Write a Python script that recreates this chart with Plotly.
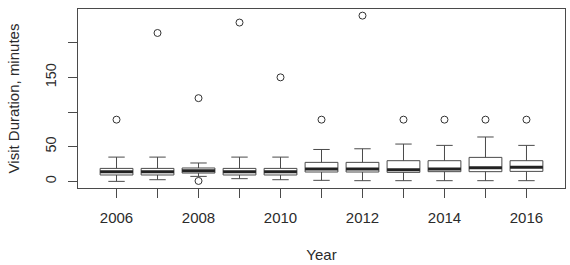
import plotly.graph_objects as go

# ---- data ----
years = [2006, 2007, 2008, 2009, 2010, 2011, 2012, 2013, 2014, 2015, 2016]
q1 = [9.2, 9.2, 12.0, 9.2, 9.2, 13.5, 13.5, 13.0, 14.0, 14.0, 14.4]
medians = [14.0, 14.0, 15.4, 14.0, 14.0, 17.9, 17.9, 16.9, 17.9, 19.7, 20.2]
q3 = [18.7, 18.7, 19.3, 18.7, 18.7, 27.4, 27.4, 29.8, 29.8, 34.6, 29.8]
whisk_lo = [0.0, 2.4, 7.2, 3.9, 2.4, 1.5, 1.0, 1.0, 1.0, 1.0, 1.0]
whisk_hi = [35.0, 35.0, 26.5, 35.0, 35.0, 46.0, 47.0, 53.8, 51.9, 64.0, 51.9]

outlier_years = [2006, 2007, 2008, 2008, 2009, 2010, 2011, 2012, 2013, 2014, 2015, 2016]
outlier_vals = [89, 214, 120, 0.6, 229, 150, 89, 239, 89, 89, 89, 89]

y_ticks = [0, 50, 100, 150, 200]
y_ticktext = ["0", "50", "", "150", ""]
x_ticktext = [str(y) if (y % 2 == 0) else "" for y in years]

x_title = "Year"
y_title = "Visit Duration, minutes"

# ---- styling ----
FONT = "Liberation Sans, Arial, sans-serif"
TXT = "#2b2b2b"
LINE = "#4a4a4a"
BOX_W = 0.8

pos = list(range(1, len(years) + 1))
pos_of = {y: p for y, p in zip(years, pos)}

fig = go.Figure()

fig.add_trace(go.Box(
    x=pos, q1=q1, median=medians, q3=q3,
    lowerfence=whisk_lo, upperfence=whisk_hi,
    width=BOX_W, whiskerwidth=0.5,
    line=dict(color=LINE, width=1),
    fillcolor="white", boxpoints=False, showlegend=False,
    hoverinfo="skip",
))

# thick median bars (R style)
mx, my = [], []
for p, m in zip(pos, medians):
    mx += [p - BOX_W / 2, p + BOX_W / 2, None]
    my += [m, m, None]
fig.add_trace(go.Scatter(x=mx, y=my, mode="lines",
                         line=dict(color="#222222", width=3),
                         showlegend=False, hoverinfo="skip"))

# outliers
fig.add_trace(go.Scatter(
    x=[pos_of[y] for y in outlier_years], y=outlier_vals, mode="markers",
    marker=dict(symbol="circle-open", size=7, color="#333333", line=dict(width=1)),
    showlegend=False, hoverinfo="skip"))

# R-like axis ranges (4% extension)
all_vals = whisk_lo + whisk_hi + outlier_vals
lo, hi = min(all_vals), max(all_vals)
pad = 0.04 * (hi - lo)
xlo, xhi = 0.5, len(years) + 0.5
xpad = 0.04 * (xhi - xlo)

fig.update_layout(
    width=570, height=265,
    margin=dict(l=78, r=5, t=9, b=77),
    paper_bgcolor="white", plot_bgcolor="white",
    font=dict(family=FONT, size=15, color=TXT),
    xaxis=dict(
        range=[xlo - xpad, xhi + xpad],
        tickmode="array", tickvals=pos, ticktext=x_ticktext,
        ticks="outside", ticklen=9, tickcolor=LINE, tickwidth=1,
        showline=True, linecolor=LINE, linewidth=1, mirror=True,
        showgrid=False, zeroline=False, automargin=False,
        ticklabelstandoff=7,
        title=dict(text=x_title, font=dict(size=15), standoff=24),
    ),
    yaxis=dict(
        range=[lo - pad, hi + pad],
        tickmode="array", tickvals=y_ticks, ticktext=y_ticktext,
        tickangle=-90,
        ticks="outside", ticklen=9, tickcolor=LINE, tickwidth=1,
        showline=True, linecolor=LINE, linewidth=1, mirror=True,
        showgrid=False, zeroline=False, automargin=False,
        ticklabelstandoff=6,
        tickfont=dict(size=14.5),
        title=dict(text=y_title, font=dict(size=15), standoff=19),
    ),
)

fig.write_html("out.html")
